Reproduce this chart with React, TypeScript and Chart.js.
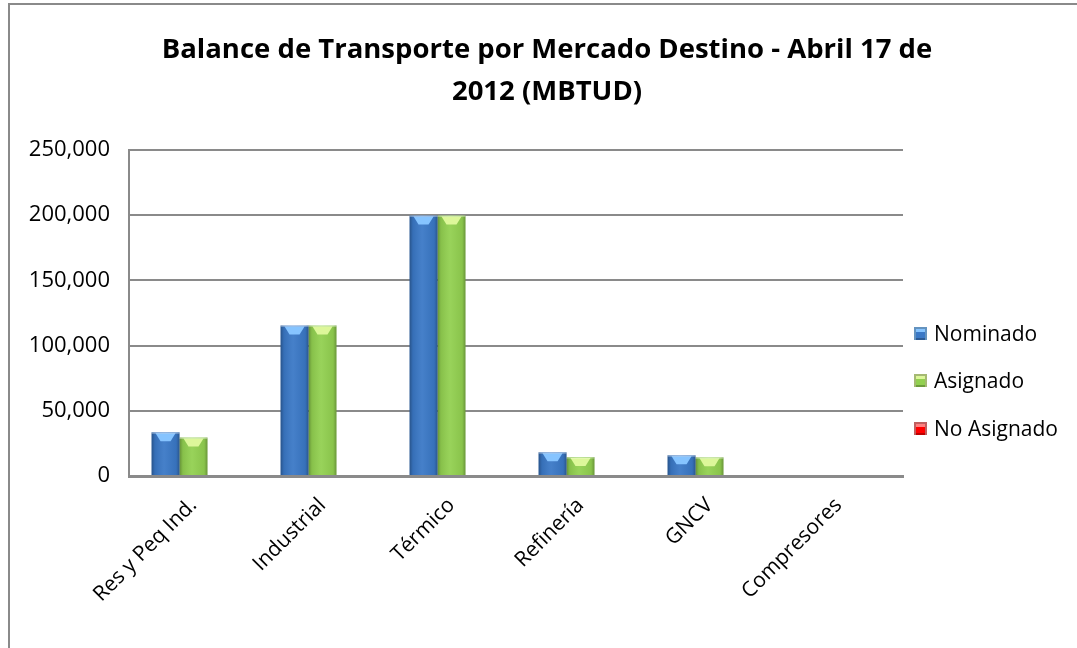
import React, { useEffect, useRef } from "react";
import { Chart, registerables } from "chart.js";

Chart.register(...registerables);

const categories = ["Res y Peq Ind.", "Industrial", "Térmico", "Refinería", "GNCV", "Compresores"];
const nominado = [33500, 115500, 199800, 18200, 15900, 0];
const asignado = [29500, 115500, 199800, 14500, 14300, 0];
const noAsignado = [0, 0, 0, 0, 0, 0];
const seriesNames = ["Nominado", "Asignado", "No Asignado"];
const yTicks = [0, 50000, 100000, 150000, 200000, 250000];

const FONT = "'Open Sans', sans-serif";
const baseColors = ["#3A78C6", "#92D050", "#FF0000"];
const topColors = ["#86C4FF", "#DDF79A", "#FF8080"];
const GRID = "#8A8A8A";

const bevelPlugin = {
  id: "bevel",
  afterDatasetsDraw(chart: any) {
    const ctx = chart.ctx;
    chart.data.datasets.forEach((ds: any, di: number) => {
      const meta = chart.getDatasetMeta(di);
      meta.data.forEach((bar: any) => {
        const left = bar.x - bar.width / 2;
        const right = bar.x + bar.width / 2;
        const top = Math.min(bar.y, bar.base);
        const bottom = Math.max(bar.y, bar.base);
        const h = bottom - top;
        const w = right - left;
        if (h < 1) return;
        ctx.save();
        const g = ctx.createLinearGradient(left, 0, right, 0);
        g.addColorStop(0, "rgba(0,0,0,0.30)");
        g.addColorStop(0.12, "rgba(0,0,0,0.08)");
        g.addColorStop(0.45, "rgba(255,255,255,0.06)");
        g.addColorStop(0.88, "rgba(0,0,0,0.06)");
        g.addColorStop(1, "rgba(0,0,0,0.28)");
        ctx.fillStyle = g;
        ctx.fillRect(left, top, w, h);
        const ch = Math.min(9, h * 0.5);
        ctx.fillStyle = topColors[di];
        ctx.beginPath();
        ctx.moveTo(left + 4, top + 1);
        ctx.lineTo(right - 4, top + 1);
        ctx.lineTo(right - w * 0.32, top + ch);
        ctx.lineTo(left + w * 0.32, top + ch);
        ctx.closePath();
        ctx.fill();
        ctx.fillStyle = "rgba(255,255,255,0.35)";
        ctx.fillRect(left, top, w, 1.5);
        ctx.restore();
      });
    });
  },
};

export default function App() {
  const ref = useRef<HTMLCanvasElement | null>(null);

  useEffect(() => {
    if (!ref.current) return;
    const chart = new Chart(ref.current, {
      type: "bar",
      data: {
        labels: categories,
        datasets: [
          { label: seriesNames[0], data: nominado, backgroundColor: baseColors[0] },
          { label: seriesNames[1], data: asignado, backgroundColor: baseColors[1] },
          { label: seriesNames[2], data: noAsignado, backgroundColor: baseColors[2] },
        ],
      },
      options: {
        animation: false,
        responsive: false,
        maintainAspectRatio: false,
        layout: { padding: { left: 19, right: 174, top: 150, bottom: 12 } },
        datasets: { bar: { categoryPercentage: 0.65, barPercentage: 1 } },
        plugins: {
          legend: { display: false },
          title: { display: false },
          tooltip: { enabled: false },
        },
        scales: {
          x: {
            afterFit: (s: any) => { s.height = 160; },
            grid: { display: false, drawTicks: false },
            border: { display: true, color: GRID, width: 3 },
            ticks: {
              maxRotation: 45,
              minRotation: 45,
              padding: 17,
              color: "#000",
              font: { family: FONT, size: 21 },
            },
          },
          y: {
            min: 0,
            max: 250000,
            afterFit: (s: any) => { s.width = 110; },
            afterBuildTicks: (s: any) => { s.ticks = yTicks.map((v) => ({ value: v })); },
            grid: { color: GRID, lineWidth: 2, drawTicks: false },
            border: { display: true, color: GRID, width: 2 },
            ticks: {
              padding: 19,
              color: "#000",
              font: { family: FONT, size: 22 },
              callback: (v: any) => Number(v).toLocaleString("en-US"),
            },
          },
        },
      },
      plugins: [bevelPlugin],
    });
    return () => chart.destroy();
  }, []);

  const legendTop = [333, 380, 428];

  return (
    <div style={{ position: "fixed", left: 0, top: 0, width: 1077, height: 648, overflow: "hidden", background: "#fff" }}>
      <div style={{ position: "absolute", left: 8, top: 3, width: 1200, height: 800, borderLeft: "2px solid #8A8A8A", borderTop: "2px solid #8A8A8A", boxSizing: "border-box" }} />
      <canvas ref={ref} width={1077} height={648} style={{ position: "absolute", left: 0, top: 0, width: 1077, height: 648 }} />
      <div style={{ position: "absolute", left: 0, width: 1094, top: 27, textAlign: "center", fontFamily: FONT, fontWeight: 700, fontSize: 27.5, lineHeight: "42px", color: "#000" }}>
        Balance de Transporte por Mercado Destino - Abril 17 de
        <br />
        2012 (MBTUD)
      </div>
      {seriesNames.map((name, i) => (
        <div key={name} style={{ position: "absolute", left: 914, top: legendTop[i] - 14, height: 28, display: "flex", alignItems: "center", fontFamily: FONT, fontSize: 21, color: "#000", whiteSpace: "nowrap" }}>
          <span style={{ display: "inline-block", width: 13, height: 13, marginRight: 7, background: baseColors[i], boxShadow: `inset 0 0 0 2px rgba(0,0,0,0.25), inset 0 3px 0 2px ${topColors[i]}` }} />
          {name}
        </div>
      ))}
    </div>
  );
}
